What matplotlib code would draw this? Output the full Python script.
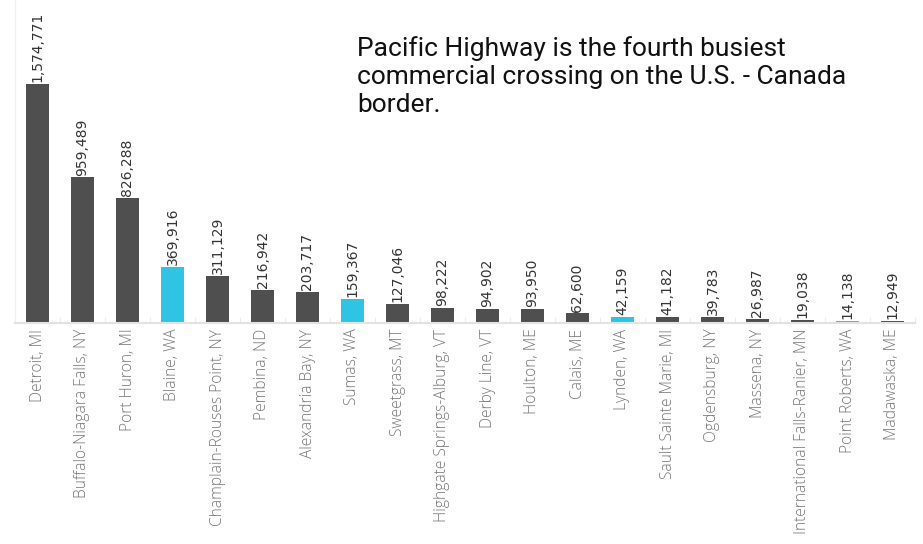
import numpy as np
import matplotlib.pyplot as plt

# Top commercial crossings on the U.S. - Canada border (truck crossings)
crossings = ['Detroit, MI', 'Buffalo-Niagara Falls, NY', 'Port Huron, MI', 'Blaine, WA',
             'Champlain-Rouses Point, NY', 'Pembina, ND', 'Alexandria Bay, NY', 'Sumas, WA',
             'Sweetgrass, MT', 'Highgate Springs-Alburg, VT', 'Derby Line, VT', 'Houlton, ME',
             'Calais, ME', 'Lynden, WA', 'Sault Sainte Marie, MI', 'Ogdensburg, NY',
             'Massena, NY', 'International Falls-Ranier, MN', 'Point Roberts, WA', 'Madawaska, ME']
volumes = [1574771, 959489, 826288, 369916, 311129, 216942, 203717, 159367, 127046, 98222,
           94902, 93950, 62600, 42159, 41182, 39783, 26987, 19038, 14138, 12949]
highlight = ['Blaine, WA', 'Sumas, WA', 'Lynden, WA', 'Point Roberts, WA']

dark = '#4f4f4f'
cyan = '#2fc3e4'
colors = [cyan if c in highlight else dark for c in crossings]

fig = plt.figure(figsize=(9.23, 5.44), dpi=100)
ax = fig.add_axes([15/923, 1 - 323/544, 900/923, 323/544])

x = np.arange(len(crossings))
ax.bar(x, volumes, width=0.52, color=colors, zorder=2)

# value labels on top of each bar
for xi, v in zip(x, volumes):
    ax.text(xi, v + 12000, f'{v:,}', rotation=90, ha='center', va='bottom',
            fontsize=10, family='DejaVu Sans', color='#333333')

ax.set_xlim(-0.5, len(crossings) - 0.5)
ax.set_ylim(0, 2128000)
ax.set_yticks([])
ax.set_xticks(x)
ax.set_xticklabels(crossings, rotation=90, fontsize=11.2, family='Open Sans',
                   fontweight='light', color='#757575')
ax.tick_params(axis='x', length=0, pad=4)
ax.set_xticks(np.arange(len(crossings) + 1) - 0.5, minor=True)
ax.tick_params(axis='x', which='minor', length=4, color='#e8e8e8', direction='in')

for side in ['top', 'right']:
    ax.spines[side].set_visible(False)
ax.spines['bottom'].set_color('#e3e3e3')
ax.spines['bottom'].set_linewidth(1.5)
ax.spines['left'].set_color('#f0f0f0')
ax.spines['left'].set_linewidth(1)

fig.text(357/923, 1 - 36/544,
         'Pacific Highway is the fourth busiest\ncommercial crossing on the U.S. - Canada\nborder.',
         ha='left', va='top', fontsize=19, family='Roboto', color='#111111',
         linespacing=1.2)

fig.savefig('out.png', dpi=100)
